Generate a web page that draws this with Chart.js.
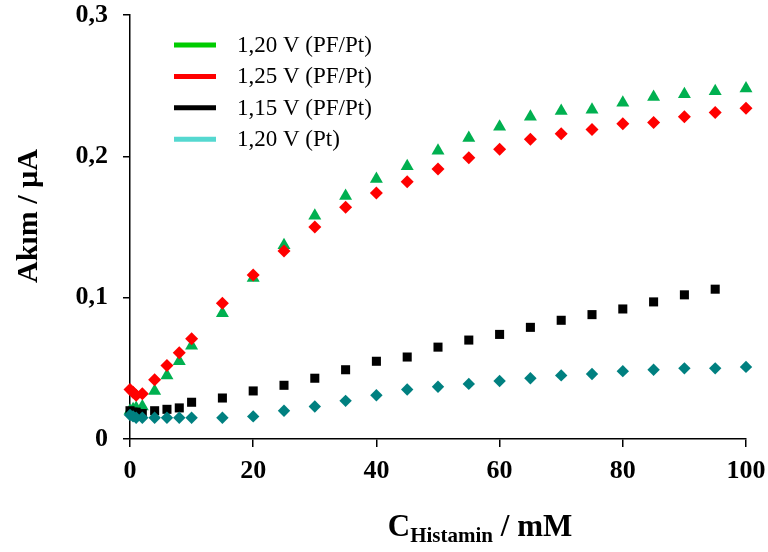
<!DOCTYPE html>
<html>
<head>
<meta charset="utf-8">
<script src="https://cdn.jsdelivr.net/npm/chart.js@4.4.0/dist/chart.umd.min.js"></script>
<style>
  html, body { margin: 0; padding: 0; background: #fff; }
  #wrap { width: 768px; height: 552px; }
</style>
</head>
<body>
<div id="wrap"><canvas id="chart" width="768" height="552"></canvas></div>
<script>
(function () {
  'use strict';

  // Histamine concentration (mM)
  const concentrations = [0, 0.5, 1, 2, 4, 6, 8, 10, 15, 20, 25, 30, 35, 40, 45, 50,
    55, 60, 65, 70, 75, 80, 85, 90, 95, 100];
  const concentrations115 = [0, 0.5, 1, 2, 4, 6, 8, 10, 15, 20, 25, 30, 35, 40, 45, 50,
    55, 60, 65, 70, 75, 80, 85, 90, 95];

  // Current (uA)
  const current120PF = [0.020, 0.021, 0.022, 0.023, 0.034, 0.045, 0.055, 0.066, 0.089, 0.114,
    0.137, 0.158, 0.172, 0.184, 0.193, 0.204, 0.213, 0.221, 0.228, 0.232, 0.233, 0.238,
    0.242, 0.244, 0.246, 0.248];
  const current125PF = [0.035, 0.033, 0.031, 0.032, 0.042, 0.052, 0.061, 0.071, 0.096, 0.116,
    0.133, 0.150, 0.164, 0.174, 0.182, 0.191, 0.199, 0.205, 0.212, 0.216, 0.219, 0.223,
    0.224, 0.228, 0.231, 0.234];
  const current115PF = [0.020, 0.019, 0.019, 0.018, 0.020, 0.021, 0.022, 0.026, 0.029, 0.034,
    0.038, 0.043, 0.049, 0.055, 0.058, 0.065, 0.070, 0.074, 0.079, 0.084, 0.088, 0.092,
    0.097, 0.102, 0.106];
  const current120Pt = [0.017, 0.016, 0.015, 0.015, 0.015, 0.015, 0.015, 0.015, 0.015, 0.016,
    0.020, 0.023, 0.027, 0.031, 0.035, 0.037, 0.039, 0.041, 0.043, 0.045, 0.046, 0.048,
    0.049, 0.050, 0.050, 0.051];

  const seriesLabels = ['1,20 V (PF/Pt)', '1,25 V (PF/Pt)', '1,15 V (PF/Pt)', '1,20 V (Pt)'];
  const xTickValues = [0, 20, 40, 60, 80, 100];
  const yTickValues = [0, 0.1, 0.2, 0.3];

  const SERIF = '"Liberation Serif", "Times New Roman", serif';

  function toPoints(xs, ys) {
    return ys.map((y, i) => ({ x: xs[i], y: y }));
  }

  function formatComma(value) {
    if (value === 0) {
      return '0';
    }
    return (Math.round(value * 10) / 10).toString().replace('.', ',');
  }

  // Legend drawn as short thick lines, like the original
  const lineLegend = {
    id: 'lineLegend',
    afterDraw(chart) {
      const ctx = chart.ctx;
      const left = 174;
      ctx.save();
      ctx.font = '23px ' + SERIF;
      ctx.textBaseline = 'middle';
      ctx.textAlign = 'left';
      chart.data.datasets.forEach((ds, i) => {
        const y = 45 + i * 31.4;
        ctx.strokeStyle = ds.legendColor;
        ctx.lineWidth = 5;
        ctx.beginPath();
        ctx.moveTo(left, y);
        ctx.lineTo(left + 42, y);
        ctx.stroke();
        ctx.fillStyle = '#000';
        ctx.fillText(ds.label, left + 63, y + 1);
      });
      ctx.restore();
    }
  };

  // Axis titles (x title has a subscript)
  const axisTitles = {
    id: 'axisTitles',
    afterDraw(chart) {
      const ctx = chart.ctx;
      ctx.save();
      ctx.fillStyle = '#000';

      // y title
      ctx.font = 'bold 30px ' + SERIF;
      ctx.textAlign = 'center';
      ctx.textBaseline = 'middle';
      ctx.translate(29, 216);
      ctx.rotate(-Math.PI / 2);
      ctx.fillText('Akım / µA', 0, 0);
      ctx.setTransform(1, 0, 0, 1, 0, 0);

      // x title
      const big = 'bold 31px ' + SERIF;
      const small = 'bold 21px ' + SERIF;
      ctx.textAlign = 'left';
      ctx.textBaseline = 'alphabetic';
      ctx.font = big;
      const wC = ctx.measureText('C').width;
      const wRest = ctx.measureText(' / mM').width;
      ctx.font = small;
      const wSub = ctx.measureText('Histamin').width;
      let x = 480 - (wC + wSub + wRest) / 2;
      ctx.font = big;
      ctx.fillText('C', x, 536);
      x += wC;
      ctx.font = small;
      ctx.fillText('Histamin', x, 542);
      x += wSub;
      ctx.font = big;
      ctx.fillText(' / mM', x, 536);
      ctx.restore();
    }
  };

  function initChart(elementId) {
    const ctx = document.getElementById(elementId).getContext('2d');

    const data = {
      datasets: [
        {
          label: seriesLabels[0],
          data: toPoints(concentrations, current120PF),
          pointStyle: 'triangle',
          pointRadius: 7.5,
          backgroundColor: '#00b050',
          borderColor: '#00b050',
          legendColor: '#00cc00',
          order: 4
        },
        {
          label: seriesLabels[1],
          data: toPoints(concentrations, current125PF),
          pointStyle: 'rectRot',
          pointRadius: 6.5,
          backgroundColor: '#ff0000',
          borderColor: '#ff0000',
          legendColor: '#ff0000',
          order: 3
        },
        {
          label: seriesLabels[2],
          data: toPoints(concentrations115, current115PF),
          pointStyle: 'rect',
          pointRadius: 6.4,
          backgroundColor: '#000000',
          borderColor: '#000000',
          legendColor: '#000000',
          order: 2
        },
        {
          label: seriesLabels[3],
          data: toPoints(concentrations, current120Pt),
          pointStyle: 'rectRot',
          pointRadius: 6.2,
          backgroundColor: '#008080',
          borderColor: '#008080',
          legendColor: '#55d8d0',
          order: 1
        }
      ]
    };

    window.histaminChart = new Chart(ctx, {
      type: 'scatter',
      data,
      plugins: [lineLegend, axisTitles],
      options: {
        responsive: false,
        animation: false,
        clip: false,
        layout: { padding: 0 },
        elements: { point: { borderWidth: 0, hoverRadius: 7 } },
        plugins: {
          legend: { display: false },
          tooltip: { enabled: false }
        },
        scales: {
          x: {
            type: 'linear',
            min: 0,
            max: 100,
            afterBuildTicks: (scale) => { scale.ticks = xTickValues.map((v) => ({ value: v })); },
            afterFit: (scale) => {
              scale.height = 113;
              scale.paddingLeft = 0;
              scale.paddingRight = 22;
            },
            border: { display: true, color: '#000', width: 1.5 },
            grid: { drawOnChartArea: false, drawTicks: true, tickLength: 8, color: '#000', lineWidth: 1.5 },
            ticks: {
              color: '#000',
              padding: 9,
              maxRotation: 0,
              font: { family: SERIF, size: 26, weight: 'bold' }
            }
          },
          y: {
            type: 'linear',
            min: 0,
            max: 0.3,
            afterBuildTicks: (scale) => { scale.ticks = yTickValues.map((v) => ({ value: v })); },
            afterFit: (scale) => {
              scale.width = 130;
              scale.paddingTop = 15;
              scale.paddingBottom = 0;
            },
            border: { display: true, color: '#000', width: 1.5 },
            grid: { drawOnChartArea: false, drawTicks: true, tickLength: 7, color: '#000', lineWidth: 1.5 },
            ticks: {
              color: '#000',
              padding: 15,
              callback: (value) => formatComma(value),
              font: { family: SERIF, size: 26, weight: 'bold' }
            }
          }
        }
      }
    });
  }

  initChart('chart');
})();
</script>
</body>
</html>
